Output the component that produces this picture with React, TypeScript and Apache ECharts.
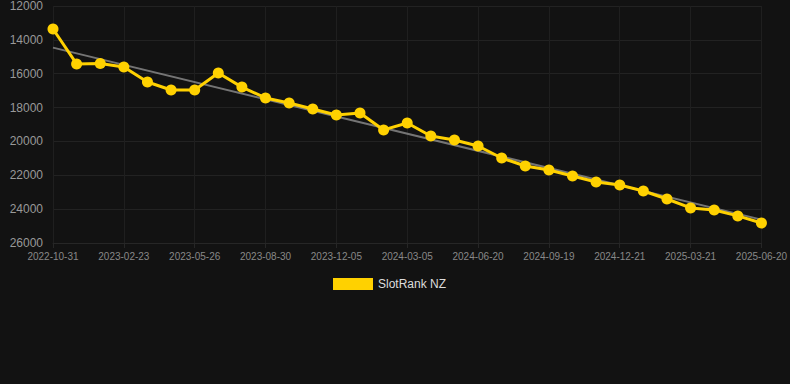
import React, { useEffect, useRef } from "react";
import * as echarts from "echarts";

const categories: string[] = [
  "2022-10-31", "2022-12-08", "2023-01-16", "2023-02-23", "2023-03-26", "2023-04-25",
  "2023-05-26", "2023-06-27", "2023-07-29", "2023-08-30", "2023-10-01", "2023-11-02",
  "2023-12-05", "2024-01-04", "2024-02-03", "2024-03-05", "2024-04-12", "2024-05-16",
  "2024-06-20", "2024-07-20", "2024-08-19", "2024-09-19", "2024-10-20", "2024-11-20",
  "2024-12-21", "2025-01-20", "2025-02-19", "2025-03-21", "2025-04-20", "2025-05-21",
  "2025-06-20",
];

const rankValues: number[] = [
  13360, 15420, 15400, 15600, 16490, 16960, 16960, 15960, 16790, 17430, 17730, 18080,
  18440, 18320, 19320, 18910, 19680, 19920, 20270, 20980, 21450, 21690, 22040, 22400,
  22570, 22930, 23400, 23930, 24050, 24400, 24820,
];

const trendStart = 14460;
const trendEnd = 24620;

const yTicks = { min: 12000, max: 26000, interval: 2000 };

export default function App() {
  const ref = useRef<HTMLDivElement>(null);
  useEffect(() => {
    if (!ref.current) return;
    const chart = echarts.init(ref.current, null, { renderer: "svg" });
    const trendData = categories.map((_, i) =>
      i === 0 ? trendStart : i === categories.length - 1 ? trendEnd : null
    );
    chart.setOption({
      animation: false,
      backgroundColor: "#121212",
      grid: { left: 53, right: 28, top: 6, bottom: 141, containLabel: false },
      legend: {
        data: ["SlotRank NZ"],
        left: 328,
        top: 273,
        itemWidth: 40,
        itemHeight: 12,
        itemGap: 10,
        icon: "rect",
        textStyle: { color: "#dddddd", fontSize: 12, fontFamily: "Liberation Sans, Arial, sans-serif" },
      },
      xAxis: {
        type: "category",
        data: categories,
        boundaryGap: false,
        axisLine: { show: true, lineStyle: { color: "#262626" } },
        axisTick: { show: true, interval: 2, length: 5, lineStyle: { color: "#262626" } },
        axisLabel: {
          interval: 2,
          color: "#888888",
          fontSize: 10,
          margin: 8,
          fontFamily: "Liberation Sans, Arial, sans-serif",
        },
        splitLine: { show: true, interval: 2, lineStyle: { color: "#1f1f1f", width: 1 } },
      },
      yAxis: {
        type: "value",
        inverse: true,
        min: yTicks.min,
        max: yTicks.max,
        interval: yTicks.interval,
        axisLine: { show: false },
        axisTick: { show: false },
        axisLabel: {
          color: "#999999",
          fontSize: 12,
          margin: 10,
          formatter: (v: number) => String(v),
          fontFamily: "Liberation Sans, Arial, sans-serif",
        },
        splitLine: { show: true, lineStyle: { color: "#222222", width: 1 } },
      },
      series: [
        {
          name: "Trend",
          type: "line",
          data: trendData,
          connectNulls: true,
          showSymbol: false,
          symbol: "none",
          lineStyle: { color: "rgba(150,150,150,0.75)", width: 2 },
          z: 1,
          silent: true,
        },
        {
          name: "SlotRank NZ",
          type: "line",
          data: rankValues,
          symbol: "circle",
          symbolSize: 11,
          itemStyle: { color: "#FFD100" },
          lineStyle: { color: "#FFD100", width: 3 },
          z: 3,
        },
      ],
    });
    return () => chart.dispose();
  }, []);
  return (
    <div
      ref={ref}
      style={{ position: "fixed", left: 0, top: 0, width: 790, height: 384, background: "#121212" }}
    />
  );
}
